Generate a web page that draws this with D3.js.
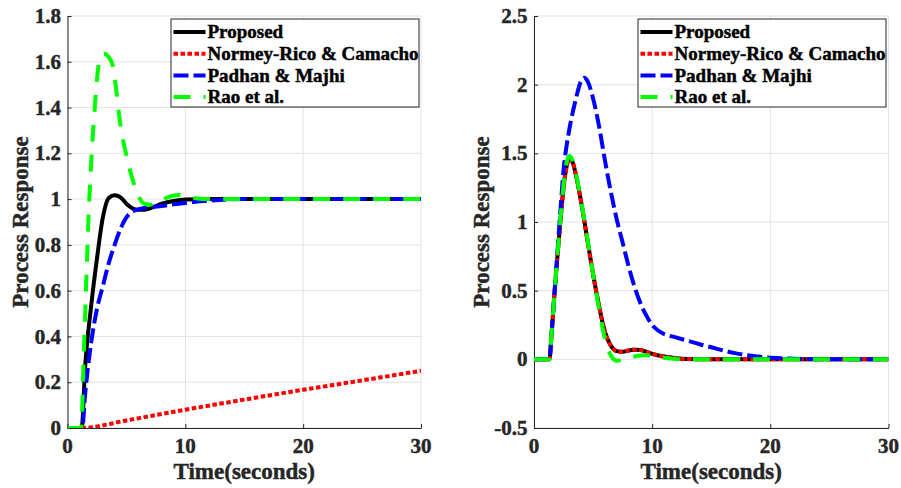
<!DOCTYPE html>
<html>
<head>
<meta charset="utf-8">
<script src="https://cdn.jsdelivr.net/npm/d3@7/dist/d3.min.js"></script>
<style>
  html, body { margin: 0; padding: 0; background: #fff; }
  svg { display: block; }
  .lbl { font-family: "Liberation Serif", "Times New Roman", serif; font-weight: bold; fill: #262626; stroke: #262626; stroke-width: 0.45px; }
</style>
</head>
<body>
<svg id="chart" width="901" height="488"></svg>
<script>
// ---------------- DATA ----------------
const seriesNames = ["Proposed", "Normey-Rico & Camacho", "Padhan & Majhi", "Rao et al."];
const xTicks = [0, 10, 20, 30];
const leftYTicks = [0, 0.2, 0.4, 0.6, 0.8, 1, 1.2, 1.4, 1.6, 1.8];
const rightYTicks = [-0.5, 0, 0.5, 1, 1.5, 2, 2.5];
const xLabel = "Time(seconds)";
const yLabel = "Process Response";

// Left panel (setpoint response): [time, value]
const leftProposed = [[0,0],[1.2,0],[1.5,0.27],[2,0.53],[2.5,0.74],[3,0.92],[3.5,1.005],[4,1.017],[4.5,1.008],[5,0.98],[5.5,0.96],[6,0.953],[6.5,0.953],[7,0.96],[8,0.98],[9,0.992],[10,0.998],[12,1.0],[20,1.0],[30,1.0]];
const leftNormey = [[0,0],[1.2,0],[5,0.033],[10,0.08],[15,0.124],[20,0.167],[25,0.208],[30,0.25]];
const leftPadhan = [[0,0],[1.25,0],[1.5,0.15],[2,0.37],[2.5,0.52],[3,0.62],[3.5,0.72],[4,0.8],[4.5,0.87],[5,0.92],[5.5,0.945],[6,0.955],[7,0.965],[8,0.97],[9,0.977],[10,0.983],[12,0.993],[15,1.0],[30,1.0]];
const leftRao = [[0,0],[1.15,0],[1.4,0.35],[1.6,0.65],[1.8,0.94],[2,1.15],[2.2,1.32],[2.4,1.46],[2.6,1.57],[2.8,1.62],[3.1,1.635],[3.5,1.62],[3.8,1.59],[4,1.53],[4.5,1.32],[5,1.19],[5.5,1.09],[6,1.015],[6.5,0.98],[7,0.975],[7.5,0.985],[8,0.995],[8.5,1.008],[9,1.015],[9.5,1.018],[10,1.012],[11,1.003],[12,1.0],[30,1.0]];

// Right panel (disturbance response): [time, value]
const rightProposed = [[0,0],[1.3,0],[1.5,0.2],[1.75,0.5],[2,0.77],[2.25,1.02],[2.5,1.25],[2.75,1.4],[3,1.46],[3.25,1.44],[3.5,1.36],[4,1.14],[4.5,0.88],[5,0.62],[5.5,0.39],[6,0.2],[6.5,0.1],[7,0.06],[7.5,0.055],[8,0.065],[8.5,0.07],[9,0.068],[9.5,0.055],[10,0.04],[11,0.02],[12,0.008],[13,0.002],[15,0],[30,0]];
const rightNormey = [[0,0],[1.3,0],[1.5,0.2],[1.75,0.5],[2,0.77],[2.25,1.02],[2.5,1.25],[2.75,1.4],[3,1.46],[3.25,1.44],[3.5,1.36],[4,1.14],[4.5,0.88],[5,0.62],[5.5,0.39],[6,0.2],[6.5,0.1],[7,0.06],[7.5,0.055],[8,0.065],[8.5,0.07],[9,0.068],[9.5,0.055],[10,0.04],[11,0.02],[12,0.008],[13,0.002],[15,0],[30,0]];
const rightPadhan = [[0,0],[1.3,0],[1.5,0.2],[1.75,0.5],[2,0.8],[2.25,1.1],[2.5,1.38],[2.75,1.55],[3,1.68],[3.5,1.88],[4,2.03],[4.25,2.05],[4.5,2.03],[5,1.9],[5.5,1.7],[6,1.45],[6.5,1.22],[7,1.02],[7.5,0.85],[8,0.68],[8.5,0.53],[9,0.41],[9.5,0.32],[10,0.25],[10.5,0.21],[11,0.185],[12,0.16],[13,0.135],[14,0.11],[15,0.088],[16,0.065],[17,0.045],[18,0.03],[19,0.02],[20,0.012],[22,0.005],[25,0],[30,0]];
const rightRao = [[0,0],[1.3,0],[1.5,0.2],[1.75,0.5],[2,0.78],[2.25,1.03],[2.5,1.27],[2.75,1.43],[3,1.48],[3.25,1.45],[3.5,1.37],[4,1.15],[4.5,0.89],[5,0.62],[5.5,0.37],[6,0.15],[6.5,0.03],[7,-0.01],[7.5,-0.005],[8,0.01],[8.5,0.02],[9,0.028],[9.5,0.03],[10,0.025],[11,0.012],[12,0.003],[13,0],[30,0]];

// ---------------- STYLE ----------------
const colors = ["#000000", "#ff0000", "#0000ff", "#00ff00"];
const dashes = [null, "4.5,2.5", "15,5", "17,13"];
const widths = [4, 4, 4, 4];

const svg = d3.select("#chart");

function panel(cfg) {
  const x = d3.scaleLinear().domain([0, 30]).range([cfg.x0, cfg.x1]);
  const y = d3.scaleLinear().domain(cfg.yDomain).range([428, 16]);
  const g = svg.append("g");

  // grid
  g.append("g").selectAll("line").data(xTicks).join("line")
    .attr("x1", d => x(d)).attr("x2", d => x(d))
    .attr("y1", y.range()[0]).attr("y2", y.range()[1])
    .attr("stroke", "#e3e3e3").attr("stroke-width", 1);
  g.append("g").selectAll("line").data(cfg.yTicks).join("line")
    .attr("x1", cfg.x0).attr("x2", cfg.x1)
    .attr("y1", d => y(d)).attr("y2", d => y(d))
    .attr("stroke", "#e3e3e3").attr("stroke-width", 1);

  // axes (ticks inside, labels drawn separately)
  const xAxis = d3.axisBottom(x).tickValues(xTicks).tickSize(-4).tickSizeOuter(0).tickFormat("");
  const yAxis = d3.axisLeft(y).tickValues(cfg.yTicks).tickSize(-4).tickSizeOuter(0).tickFormat("");
  const ga = g.append("g").attr("transform", `translate(0,${y.range()[0]})`).call(xAxis);
  const gb = g.append("g").attr("transform", `translate(${cfg.x0},0)`).call(yAxis);
  [ga, gb].forEach(a => {
    a.select(".domain").attr("stroke", "#262626").attr("stroke-width", 1);
    a.selectAll(".tick line").attr("stroke", "#262626");
  });

  // tick labels
  g.append("g").selectAll("text").data(xTicks).join("text")
    .attr("class", "lbl").attr("x", d => x(d)).attr("y", 453)
    .attr("text-anchor", "middle").style("font-size", "21px").text(d => String(d));
  g.append("g").selectAll("text").data(cfg.yTicks).join("text")
    .attr("class", "lbl").attr("x", cfg.x0 - 6.5).attr("y", d => y(d)).attr("dy", "0.34em")
    .attr("text-anchor", "end").style("font-size", "21px").text(d => String(d));

  // clip
  const cid = "clip" + cfg.id;
  svg.append("clipPath").attr("id", cid).append("rect")
    .attr("x", cfg.x0).attr("y", 16).attr("width", cfg.x1 - cfg.x0).attr("height", 412);

  const line = d3.line().x(d => x(d[0])).y(d => y(d[1])).curve(d3.curveMonotoneX);
  const lg = g.append("g").attr("clip-path", `url(#${cid})`);
  cfg.series.forEach((s, i) => {
    lg.append("path").datum(s).attr("d", line)
      .attr("fill", "none").attr("stroke", colors[i]).attr("stroke-width", widths[i])
      .attr("stroke-dasharray", dashes[i]).attr("stroke-linejoin", "round");
  });

  // axis titles
  g.append("text").attr("class", "lbl").attr("x", (cfg.x0 + cfg.x1) / 2).attr("y", 479)
    .attr("text-anchor", "middle").style("font-size", "23px").text(xLabel);
  g.append("text").attr("class", "lbl").attr("transform", `translate(${cfg.yLabelX},222) rotate(-90)`)
    .attr("text-anchor", "middle").style("font-size", "23px").text(yLabel);

  // legend
  const L = g.append("g");
  L.append("rect").attr("x", cfg.legX).attr("y", 19).attr("width", 248).attr("height", 88)
    .attr("fill", "#fff").attr("stroke", "#262626").attr("stroke-width", 1);
  seriesNames.forEach((n, i) => {
    const cy = 32 + i * 21.7;
    L.append("line").attr("x1", cfg.legX + 2.5).attr("x2", cfg.legX + 34.5)
      .attr("y1", cy).attr("y2", cy)
      .attr("stroke", colors[i]).attr("stroke-width", widths[i]).attr("stroke-dasharray", dashes[i]);
    L.append("text").attr("class", "lbl").attr("x", cfg.legX + 36.5).attr("y", cy).attr("dy", "0.33em")
      .style("font-size", "19px").style("fill", "#000").style("stroke", "#000").text(n);
  });
}

panel({ id: "L", x0: 67.5, x1: 421, yDomain: [0, 1.8], yTicks: leftYTicks,
  series: [leftProposed, leftNormey, leftPadhan, leftRao], yLabelX: 28, legX: 171 });
panel({ id: "R", x0: 534, x1: 888.5, yDomain: [-0.5, 2.5], yTicks: rightYTicks,
  series: [rightProposed, rightNormey, rightPadhan, rightRao], yLabelX: 489, legX: 638 });
</script>
</body>
</html>
